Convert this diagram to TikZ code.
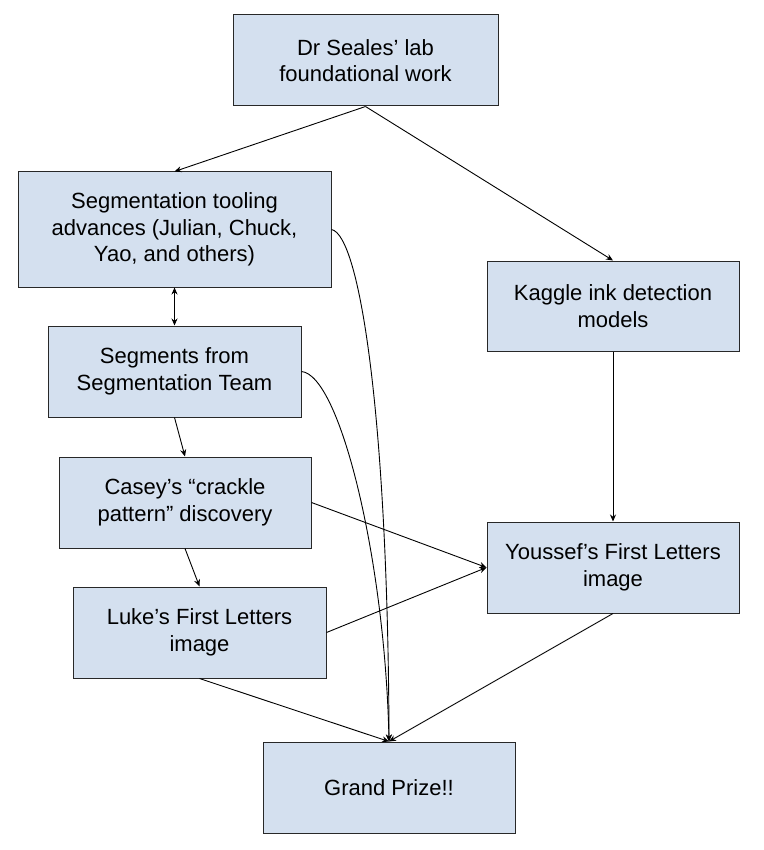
\documentclass[tikz,border=0pt]{standalone}
\usepackage{fontspec}
\setmainfont{Liberation Sans}
\usetikzlibrary{arrows.meta}
\definecolor{boxfill}{RGB}{212,224,239}
\definecolor{boxline}{RGB}{40,40,40}
\tikzset{
  box/.style={draw=boxline, fill=boxfill, line width=1pt, align=center,
    font=\fontsize{22}{26.5}\selectfont, inner sep=0pt},
  conn/.style={line width=0.9pt, -{Stealth[length=7pt,width=6pt]}},
}
\begin{document}
\begin{tikzpicture}[x=1pt,y=-1pt]
\useasboundingbox (0,0) rectangle (763,850);
\node[box, minimum width=265pt, minimum height=91pt] (seales) at (365.5,60.5) {Dr Seales’ lab\\foundational work};
\node[box, minimum width=313pt, minimum height=115pt] (tool) at (174.5,229.5) {Segmentation tooling\\advances (Julian, Chuck,\\Yao, and others)};
\node[box, minimum width=252pt, minimum height=90pt] (kaggle) at (613,306) {Kaggle ink detection\\models};
\node[box, minimum width=253pt, minimum height=91pt] (segs) at (174.5,371.5) {Segments from\\Segmentation Team};
\node[box, minimum width=252pt, minimum height=91pt] (casey) at (185,502.5) {Casey’s “crackle\\pattern” discovery};
\node[box, minimum width=252pt, minimum height=91pt] (youssef) at (613,567.5) {Youssef’s First Letters\\image};
\node[box, minimum width=253pt, minimum height=91pt] (luke) at (199.5,632.5) {Luke’s First Letters\\image};
\node[box, minimum width=252pt, minimum height=91pt] (grand) at (389,787.5) {Grand Prize!!};

\draw[conn] (seales.south) -- (tool.north);
\draw[conn] (seales.south) -- (kaggle.north);
\draw[line width=0.9pt, {Stealth[length=7pt,width=6pt]}-{Stealth[length=7pt,width=6pt]}] (tool.south) -- (segs.north);
\draw[conn] (segs.south) -- (casey.north);
\draw[conn] (casey.south) -- (luke.north);
\draw[conn] (kaggle.south) -- (youssef.north);
\draw[conn] (casey.east) -- (youssef.west);
\draw[conn] (luke.east) -- (youssef.west);
\draw[conn] (luke.south) -- (grand.north);
\draw[conn] (youssef.south) -- (grand.north);
\draw[conn] (tool.east) .. controls (360,235) and (388,420) .. (grand.north);
\draw[conn] (segs.east) .. controls (340,375) and (385,560) .. (grand.north);
\end{tikzpicture}
\end{document}
